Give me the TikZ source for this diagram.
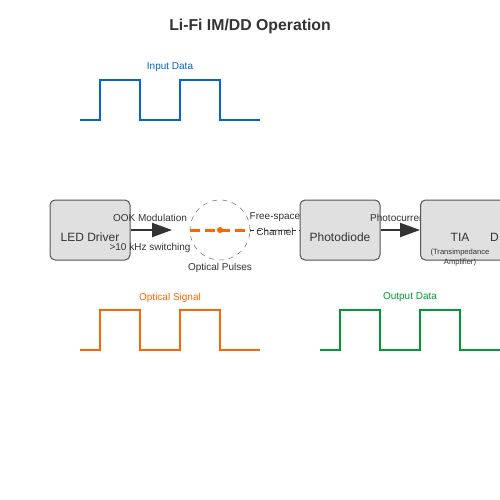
\documentclass[tikz,border=0pt]{standalone}
\usepackage{fontspec}
\setmainfont{Liberation Sans}
\usetikzlibrary{arrows.meta}
\definecolor{cblue}{HTML}{0066CC}
\definecolor{corange}{HTML}{FF6600}
\definecolor{cgreen}{HTML}{009933}
\definecolor{cbox}{HTML}{E0E0E0}
\definecolor{cstroke}{HTML}{555555}
\definecolor{ctext}{HTML}{333333}
\begin{document}
\begin{tikzpicture}[x=1pt,y=-1pt,
  blk/.style={draw=cstroke,fill=cbox,line width=1pt,rounded corners=5pt,minimum width=80pt,minimum height=60pt,inner sep=0pt},
  lbl/.style={font=\fontsize{10}{12}\selectfont,text=ctext,inner sep=0pt},
  big/.style={font=\fontsize{12}{14}\selectfont,text=ctext,inner sep=0pt},
  tiny/.style={font=\fontsize{7.6}{9}\selectfont,text=ctext,inner sep=0pt},
  wave/.style={line width=2pt},
  harrow/.style={draw=ctext,line width=2pt,-{Triangle[length=20pt,width=14pt]}}]
\clip (0,0) rectangle (500,500);
\fill[white] (0,0) rectangle (500,500);
% title
\node[font=\bfseries\fontsize{15.8}{19}\selectfont,text=ctext] (title) at (250,26.5) {Li-Fi IM/DD Operation};
% input data
\node[lbl,text=cblue] (inlbl) at (170,67.5) {Input Data};
\draw[wave,cblue] (80,120) -- (100,120) -- (100,80) -- (140,80) -- (140,120) -- (180,120) -- (180,80) -- (220,80) -- (220,120) -- (260,120);
% LED driver
\node[blk] (led) at (90,230) {};
\node[big] (ledt) at (90,237) {LED Driver};
\coordinate (ledtip) at (172,230);
\draw[harrow] (led.east) -- (ledtip);
\node[lbl] (ook) at (150,217.5) {OOK Modulation};
\node[lbl] (sw) at (150,247.5) {>10 kHz switching};
% optical pulses
\node[circle,draw=cstroke,dash pattern=on 5pt off 5pt,minimum size=60pt,inner sep=0pt] (circ) at (220,230) {};
\draw[corange,line width=3pt,dash pattern=on 10pt off 5pt] (circ.west) -- (circ.east);
\fill[corange] (circ.center) circle (3pt);
\node[lbl] (op) at (220,267.5) {Optical Pulses};
% channel
\node[blk] (pd) at (340,230) {};
\node[big] (pdt) at (340,237) {Photodiode};
\draw[ctext,line width=1pt,dash pattern=on 4pt off 3pt] (circ.east) -- (pd.west);
\node[lbl] (fs) at (275,217.5) {Free-space};
\node[lbl] (ch) at (275,232) {Channel};
% photocurrent
\node[lbl,anchor=west] (pc) at (370,217.5) {Photocurrent};
\node[blk,minimum width=90pt,anchor=west] (tia) at (420,230) {};
\draw[harrow] (pd.east) -- (tia.west);
\node[big] (tiat) at (460,237) {TIA};
\node[tiny] (tias1) at (460,253) {(Transimpedance};
\node[tiny] (tias2) at (460,263) {Amplifier)};
\node[big,anchor=west] (dd) at (490,237) {D};
% optical signal
\node[lbl,text=corange] (oslbl) at (170,297.5) {Optical Signal};
\draw[wave,corange] (80,350) -- (100,350) -- (100,310) -- (140,310) -- (140,350) -- (180,350) -- (180,310) -- (220,310) -- (220,350) -- (260,350);
% output data
\node[lbl,text=cgreen] (odlbl) at (410,297.5) {Output Data};
\draw[wave,cgreen] (320,350) -- (340,350) -- (340,310) -- (380,310) -- (380,350) -- (420,350) -- (420,310) -- (460,310) -- (460,350) -- (500,350);
\end{tikzpicture}
\end{document}
